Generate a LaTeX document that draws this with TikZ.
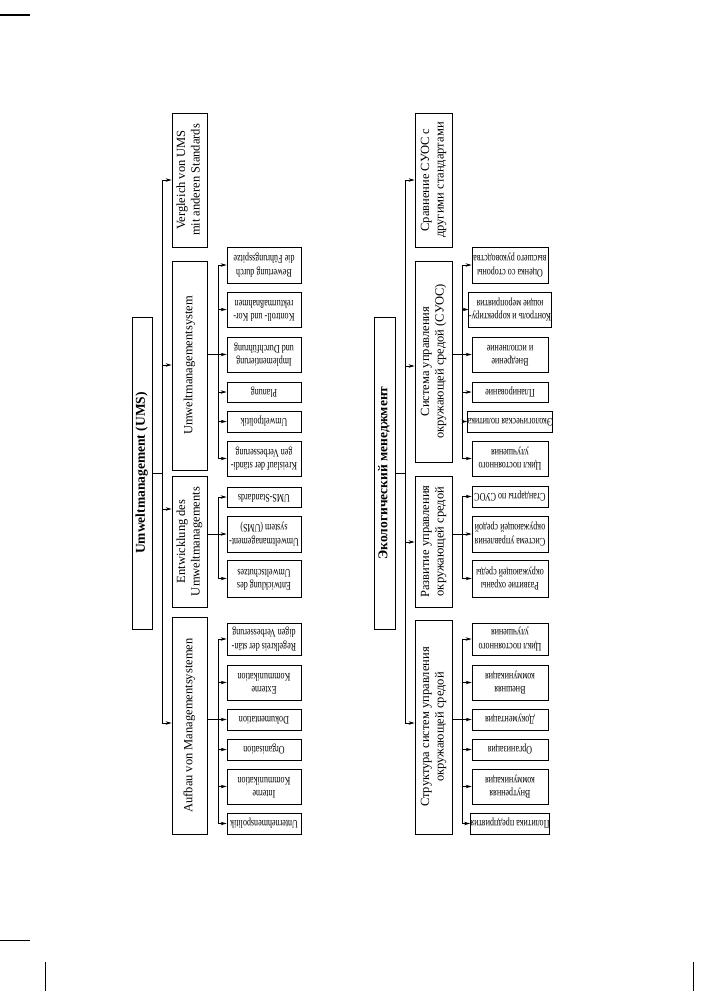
\documentclass[tikz,border=0pt]{standalone}
\usepackage{fontspec}
\setmainfont{Liberation Serif}
\usetikzlibrary{arrows.meta}
\newcommand\vt[1]{\rotatebox{90}{\begin{tabular}{@{}c@{}}#1\end{tabular}}}
\newcommand\ut[1]{\rotatebox{180}{\scalebox{0.7}[1]{\begin{tabular}{@{}c@{}}#1\end{tabular}}}}
\newcommand\bx[7][box]{\node[#1,minimum width={(#4)-(#2)},minimum height={(#5)-(#3)}] (#6) at ({((#2)+(#4))/2},{((#3)+(#5))/2}) {#7};}
\tikzset{
  box/.style={draw,line width=0.8pt,inner sep=0pt,font=\fontsize{12.5}{14.5}\selectfont},
  leaf/.style={box,font=\fontsize{11.5}{13.5}\selectfont},
  ln/.style={line width=0.8pt},
  arr/.style={line width=0.8pt,-{Stealth[length=6pt,width=3.5pt]}}
}
\begin{document}
\begin{tikzpicture}[x=1pt,y=-1pt]
\useasboundingbox (0,0) rectangle (711,991);
% scan edge marks
\draw[line width=1.2pt] (0,15) -- (30,15);
\draw[line width=1pt] (0,940) -- (30,940);
\draw[line width=1pt] (45,962) -- (45,991);
\draw[line width=1pt] (693,962) -- (693,991);

% ================= German =================
\bx{132}{317}{152}{629}{groot}{\vt{\fontsize{13.5}{16}\selectfont\bfseries Umweltmanagement (UMS)}}
\bx{172}{113}{207}{247}{gv}{\vt{Vergleich von UMS\\mit anderen Standards}}
\bx{172}{261}{207}{470}{gu}{\vt{Umweltmanagementsystem}}
\bx{172}{476}{207}{607}{ge}{\vt{Entwicklung des\\Umweltmanagements}}
\bx{172}{617}{207}{834}{ga}{\vt{Aufbau von Managementsystemen}}

\bx[leaf]{227}{247}{301}{283}{gu1}{\ut{Bewertung durch\\die Führungsspitze}}
\bx[leaf]{227}{292}{301}{327}{gu2}{\ut{Kontroll- und Kor-\\rekturmaßnahmen}}
\bx[leaf]{227}{337}{301}{372}{gu3}{\ut{Implementierung\\und Durchführung}}
\bx[leaf]{227}{382}{301}{402}{gu4}{\ut{Planung}}
\bx[leaf]{227}{411}{301}{432}{gu5}{\ut{Umweltpolitik}}
\bx[leaf]{227}{441}{301}{476}{gu6}{\ut{Kreislauf der ständi-\\gen Verbesserung}}
\bx[leaf]{227}{487}{301}{507}{ge1}{\ut{UMS-Standards}}
\bx[leaf]{227}{516}{301}{552}{ge2}{\ut{Umweltmanagement-\\system (UMS)}}
\bx[leaf]{227}{560}{301}{597}{ge3}{\ut{Entwicklung des\\Umweltschutzes}}
\bx[leaf]{227}{623}{301}{655}{ga1}{\ut{Regelkreis der stän-\\digen Verbesserung}}
\bx[leaf]{227}{665}{301}{700}{ga2}{\ut{Externe\\Kommunikation}}
\bx[leaf]{227}{709}{301}{730}{ga3}{\ut{Dokumentation}}
\bx[leaf]{227}{739}{301}{760}{ga4}{\ut{Organisation}}
\bx[leaf]{227}{769}{301}{804}{ga5}{\ut{Interne\\Kommunikation}}
\bx[leaf]{227}{813}{301}{834}{ga6}{\ut{Unternehmenspolitik}}

\coordinate (gs) at (162,473);
\coordinate (gs1) at (162,180);
\coordinate (gs2) at (162,365);
\coordinate (gs3) at (162,509);
\coordinate (gs4) at (162,723);
\draw[ln] (groot.east) -- (gs);
\draw[ln] (gs1) -- (gs4);
\draw[arr] (gs1) -- (gs1 -| gv.west);
\draw[arr] (gs2) -- (gs2 -| gu.west);
\draw[arr] (gs3) -- (gs3 -| ge.west);
\draw[arr] (gs4) -- (gs4 -| ga.west);

\coordinate (gj) at (218,0);
\draw[ln] (gu3.west -| gu.east) -- (gu3.west -| gj);
\draw[ln] (gu1.west -| gj) -- (gu6.west -| gj);
\foreach \n in {gu1,gu2,gu3,gu4,gu5,gu6}{\draw[arr] (\n.west -| gj) -- (\n.west);}
\draw[ln] (ge2.west -| ge.east) -- (ge2.west -| gj);
\draw[ln] (ge1.west -| gj) -- (ge3.west -| gj);
\foreach \n in {ge1,ge2,ge3}{\draw[arr] (\n.west -| gj) -- (\n.west);}
\draw[ln] (ga3.west -| ga.east) -- (ga3.west -| gj);
\draw[ln] (ga1.west -| gj) -- (ga6.west -| gj);
\foreach \n in {ga1,ga2,ga3,ga4,ga5,ga6}{\draw[arr] (\n.west -| gj) -- (\n.west);}

% ================= Russian =================
\bx{374}{317}{395}{629}{rroot}{\vt{\fontsize{13.5}{16}\selectfont\bfseries Экологический менеджмент}}
\bx{415}{113}{452}{247}{rv}{\vt{Сравнение СУОС с\\другими стандартами}}
\bx{415}{261}{452}{462}{ru}{\vt{Система управления\\окружающей средой (СУОС)}}
\bx{415}{476}{452}{607}{re}{\vt{Развитие управления\\окружающей средой}}
\bx{415}{620}{452}{834}{ra}{\vt{Структура систем управления\\окружающей средой}}

\bx[leaf]{472}{247}{548}{283}{ru1}{\ut{Оценка со стороны\\высшего руководства}}
\bx[leaf]{472}{292}{548}{327}{ru2}{\ut{Контроль и корректиру-\\ющие мероприятия}}
\bx[leaf]{472}{337}{548}{372}{ru3}{\ut{Внедрение\\и исполнение}}
\bx[leaf]{472}{382}{548}{402}{ru4}{\ut{Планирование}}
\bx[leaf]{472}{411}{548}{432}{ru5}{\ut{Экологическая политика}}
\bx[leaf]{472}{441}{548}{476}{ru6}{\ut{Цикл постоянного\\улучшения}}
\bx[leaf]{472}{486}{548}{507}{re1}{\ut{Стандарты по СУОС}}
\bx[leaf]{472}{516}{548}{552}{re2}{\ut{Система управления\\окружающей средой}}
\bx[leaf]{472}{560}{548}{597}{re3}{\ut{Развитие охраны\\окружающей среды}}
\bx[leaf]{472}{623}{548}{655}{ra1}{\ut{Цикл постоянного\\улучшения}}
\bx[leaf]{472}{665}{548}{700}{ra2}{\ut{Внешняя\\коммуникация}}
\bx[leaf]{472}{709}{548}{730}{ra3}{\ut{Документация}}
\bx[leaf]{472}{739}{548}{760}{ra4}{\ut{Организация}}
\bx[leaf]{472}{769}{548}{804}{ra5}{\ut{Внутренняя\\коммуникация}}
\bx[leaf]{472}{813}{548}{834}{ra6}{\ut{Политика предприятия}}

\coordinate (rs) at (405,473);
\coordinate (rs1) at (405,180);
\coordinate (rs2) at (405,366);
\coordinate (rs3) at (405,542);
\coordinate (rs4) at (405,723);
\draw[ln] (rroot.east) -- (rs);
\draw[ln] (rs1) -- (rs4);
\draw[arr] (rs1) -- (rs1 -| rv.west);
\draw[arr] (rs2) -- (rs2 -| ru.west);
\draw[arr] (rs3) -- (rs3 -| re.west);
\draw[arr] (rs4) -- (rs4 -| ra.west);

\coordinate (rj) at (462,0);
\draw[ln] (ru3.west -| ru.east) -- (ru3.west -| rj);
\draw[ln] (ru1.west -| rj) -- (ru6.west -| rj);
\foreach \n in {ru1,ru2,ru3,ru4,ru5,ru6}{\draw[arr] (\n.west -| rj) -- (\n.west);}
\draw[ln] (re2.west -| re.east) -- (re2.west -| rj);
\draw[ln] (re1.west -| rj) -- (re3.west -| rj);
\foreach \n in {re1,re2,re3}{\draw[arr] (\n.west -| rj) -- (\n.west);}
\draw[ln] (ra3.west -| ra.east) -- (ra3.west -| rj);
\draw[ln] (ra1.west -| rj) -- (ra6.west -| rj);
\foreach \n in {ra1,ra2,ra3,ra4,ra5,ra6}{\draw[arr] (\n.west -| rj) -- (\n.west);}
\end{tikzpicture}
\end{document}
